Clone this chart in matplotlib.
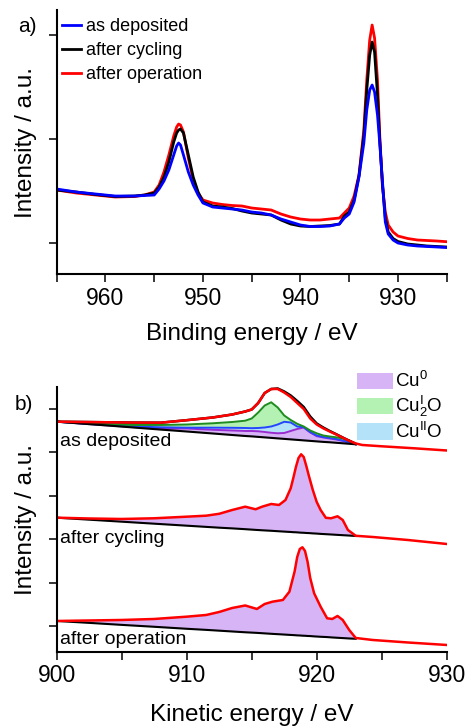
import numpy as np
import matplotlib
matplotlib.use('Agg')
import matplotlib.pyplot as plt
from matplotlib.patches import Patch
from matplotlib.lines import Line2D
from matplotlib.ticker import MultipleLocator

plt.rcParams['font.family'] = ['Liberation Sans', 'DejaVu Sans']
plt.rcParams['mathtext.default'] = 'regular'

# ---------------- panel a) : Cu 2p XPS ----------------
binding_energy = [965, 963, 961, 959, 957, 956, 955, 954.5, 954, 953.5, 953, 952.7, 952.5, 952.3,
                  952, 951.5, 951, 950.5, 950, 949, 948, 947, 946, 945, 944, 943, 942, 941, 940,
                  939, 938, 937, 936, 935.5, 935, 934.5, 934, 933.5, 933.2, 932.9, 932.65, 932.4,
                  932.1, 931.87, 931.6, 931.3, 931, 930.5, 930, 929, 928, 927, 926, 925]
xps_as_deposited = [0.61, 0.58, 0.56, 0.54, 0.54, 0.545, 0.55, 0.61, 0.69, 0.80, 0.95, 1.04, 1.07, 1.05,
                    0.95, 0.78, 0.65, 0.55, 0.47, 0.43, 0.42, 0.41, 0.40, 0.38, 0.37, 0.35, 0.31, 0.28,
                    0.25, 0.235, 0.235, 0.24, 0.26, 0.32, 0.36, 0.48, 0.73, 1.07, 1.40, 1.60, 1.65,
                    1.58, 1.35, 1.07, 0.70, 0.28, 0.16, 0.10, 0.07, 0.05, 0.04, 0.035, 0.03, 0.025]
xps_after_cycling = [0.60, 0.58, 0.555, 0.535, 0.54, 0.55, 0.57, 0.63, 0.73, 0.88, 1.08, 1.17, 1.20, 1.21,
                     1.17, 0.95, 0.73, 0.58, 0.48, 0.44, 0.43, 0.415, 0.39, 0.37, 0.36, 0.35, 0.30, 0.26,
                     0.24, 0.235, 0.24, 0.245, 0.26, 0.34, 0.38, 0.50, 0.74, 1.15, 1.60, 1.95, 2.08,
                     1.98, 1.55, 1.10, 0.67, 0.32, 0.18, 0.115, 0.085, 0.06, 0.05, 0.04, 0.035, 0.03]
xps_after_operation = [0.60, 0.57, 0.55, 0.53, 0.535, 0.55, 0.58, 0.65, 0.78, 0.95, 1.14, 1.23, 1.26, 1.25,
                       1.18, 0.92, 0.70, 0.57, 0.50, 0.47, 0.455, 0.445, 0.44, 0.42, 0.41, 0.40, 0.36, 0.33,
                       0.31, 0.30, 0.30, 0.31, 0.32, 0.37, 0.42, 0.54, 0.75, 1.20, 1.70, 2.10, 2.25,
                       2.12, 1.70, 1.15, 0.65, 0.38, 0.25, 0.18, 0.14, 0.115, 0.10, 0.095, 0.09, 0.083]
labels_a = ['as deposited', 'after cycling', 'after operation']
colors_a = ['#0000FF', '#000000', '#FF0000']

# ---------------- panel b) : Cu LMM Auger ----------------
# as deposited (with fit components, cumulative boundaries)
ke_dep = [900, 902, 904, 906, 908, 910, 912, 913.5, 914.5, 915, 915.5, 916, 916.5, 917, 917.5, 918,
          918.5, 919, 919.5, 920, 920.5, 921, 921.5, 922, 922.5, 923, 923.5, 925, 927.5, 930]
dep_spectrum = [2.183, 2.18, 2.177, 2.174, 2.173, 2.198, 2.225, 2.255, 2.285, 2.305, 2.37, 2.47, 2.51,
                2.51, 2.475, 2.43, 2.37, 2.31, 2.215, 2.155, 2.117, 2.085, 2.055, 2.023, 1.992, 1.965,
                1.95, 1.937, 1.917, 1.895]
dep_envelope = [2.183, 2.18, 2.177, 2.174, 2.173, 2.198, 2.225, 2.255, 2.285, 2.305, 2.37, 2.47, 2.51,
                2.515, 2.485, 2.445, 2.39, 2.33, 2.235, 2.165, 2.125, 2.09, 2.058, 2.025, 1.993, 1.962]
dep_background = [2.183, 2.163, 2.144, 2.124, 2.104, 2.085, 2.065, 2.05, 2.04, 2.036, 2.031, 2.026,
                  2.021, 2.016, 2.011, 2.006, 2.001, 1.996, 1.991, 1.986, 1.981, 1.977, 1.972, 1.967,
                  1.962, 1.957]
dep_cu0_top = [2.183, 2.163, 2.145, 2.128, 2.114, 2.115, 2.102, 2.095, 2.09, 2.09, 2.087, 2.08, 2.072,
               2.067, 2.07, 2.09, 2.11, 2.125, 2.075, 2.038, 2.025, 2.015, 2.005, 1.99, 1.972, 1.957]
dep_cuo_top = [2.183, 2.165, 2.15, 2.135, 2.127, 2.123, 2.123, 2.122, 2.12, 2.118, 2.12, 2.125, 2.135,
               2.155, 2.182, 2.175, 2.135, 2.127, 2.08, 2.045, 2.03, 2.02, 2.01, 1.995, 1.975, 1.957]
dep_cu2o_top = [2.183, 2.17, 2.155, 2.15, 2.15, 2.155, 2.167, 2.18, 2.193, 2.215, 2.275, 2.345, 2.377,
                2.325, 2.245, 2.20, 2.162, 2.135, 2.095, 2.067, 2.045, 2.035, 2.027, 2.015, 1.995, 1.96]

# after cycling
ke_cyc = [900, 902.5, 905, 907.5, 910, 911.5, 912.5, 913.5, 914.5, 915.3, 915.8, 916.5, 917.1, 917.6,
          918.0, 918.2, 918.4, 918.6, 918.8, 919.0, 919.2, 919.4, 919.7, 920.0, 920.3, 920.7, 921.1,
          921.6, 922.0, 922.4, 923.0, 924.3, 927, 930]
cyc_spectrum = [1.223, 1.215, 1.21, 1.217, 1.233, 1.243, 1.262, 1.30, 1.333, 1.307, 1.333, 1.36, 1.35,
                1.40, 1.517, 1.62, 1.73, 1.82, 1.857, 1.83, 1.74, 1.64, 1.50, 1.38, 1.30, 1.222, 1.217,
                1.237, 1.20, 1.10, 1.042, 1.03, 1.00, 0.96]
cyc_background = [1.223, 1.203, 1.183, 1.163, 1.143, 1.131, 1.123, 1.116, 1.108, 1.101, 1.097, 1.092,
                  1.087, 1.083, 1.080, 1.078, 1.077, 1.075, 1.073, 1.072, 1.070, 1.069, 1.066, 1.064,
                  1.061, 1.058, 1.055, 1.051, 1.048, 1.045, 1.040]

# after operation
ke_op = [900, 902.5, 905, 907.5, 910, 911.5, 912.5, 913.5, 914.5, 915.4, 916.0, 916.6, 917.4, 917.9,
         918.3, 918.5, 918.7, 918.9, 919.1, 919.3, 919.5, 919.8, 920.3, 920.8, 921.2, 921.6, 922.0,
         922.5, 923.0, 924.3, 927, 930]
op_spectrum = [0.19, 0.195, 0.20, 0.21, 0.233, 0.25, 0.28, 0.32, 0.345, 0.31, 0.36, 0.383, 0.40, 0.483,
               0.685, 0.83, 0.91, 0.927, 0.89, 0.78, 0.62, 0.467, 0.333, 0.217, 0.21, 0.24, 0.20, 0.10,
               0.02, 0.0, -0.025, -0.05]
op_background = [0.19, 0.171, 0.151, 0.132, 0.112, 0.101, 0.093, 0.085, 0.077, 0.071, 0.066, 0.061,
                 0.055, 0.051, 0.048, 0.046, 0.045, 0.043, 0.042, 0.040, 0.039, 0.036, 0.032, 0.029,
                 0.025, 0.022, 0.019, 0.015, 0.012]

sample_labels_b = ['as deposited', 'after cycling', 'after operation']
component_labels = ['Cu$^{0}$', 'Cu$^{I}_{2}$O', 'Cu$^{II}$O']
fill_colors = ['#D7B4F6', '#B4F2B4', '#B4E2F8']
line_colors = ['#9A2BD0', '#1E8C1E', '#2446FF']

# ---------------- figure ----------------
fig = plt.figure(figsize=(4.69, 7.27), dpi=100)
ax1 = fig.add_axes([0.1209, 0.6231, 0.8316, 0.3631])
ax2 = fig.add_axes([0.1209, 0.1032, 0.8316, 0.3649])

for ax in (ax1, ax2):
    ax.spines['top'].set_visible(False)
    ax.spines['right'].set_visible(False)
    ax.spines['left'].set_linewidth(1.5)
    ax.spines['bottom'].set_linewidth(1.5)
    ax.tick_params(axis='both', which='both', direction='out', length=5.5, width=1.1,
                   labelsize=16.5, pad=3.5)

# panel a
series = [xps_as_deposited, xps_after_cycling, xps_after_operation]
handles = [Line2D([], [], color=c, lw=2.0, label=lab) for c, lab in zip(colors_a, labels_a)]
for data, c in zip(series[::-1], colors_a[::-1]):
    ax1.plot(binding_energy, data, color=c, lw=2.0, solid_joinstyle='round')
ax1.set_xlim(965, 925)
ax1.set_ylim(-0.24, 2.40)
ax1.xaxis.set_major_locator(MultipleLocator(10))
ax1.xaxis.set_minor_locator(MultipleLocator(5))
ax1.set_yticks([0.07, 1.11, 2.15])
ax1.set_yticklabels([])
ax1.set_xlabel('Binding energy / eV', fontsize=17.5, labelpad=10)
ax1.set_ylabel('Intensity / a.u.', fontsize=17.5)
ax1.yaxis.set_label_coords(-0.05, 0.5)
ax1.legend(handles=handles, loc='upper left', bbox_to_anchor=(0.008, 0.975), frameon=False,
           fontsize=13, handlelength=1.05, handletextpad=0.3, labelspacing=0.38,
           borderaxespad=0.0, borderpad=0.1)
fig.text(27 / 469, 1 - 26 / 727, 'a)', fontsize=15, ha='center', va='center')

# panel b
ke_fit = ke_dep[:len(dep_background)]
layers = [dep_background, dep_cu0_top, dep_cuo_top, dep_cu2o_top]
layer_fill = [fill_colors[0], fill_colors[2], fill_colors[1]]
for i in range(3):
    ax2.fill_between(ke_fit, layers[i], layers[i + 1], color=layer_fill[i], lw=0)
ax2.plot(ke_fit, dep_cu0_top, color=line_colors[0], lw=1.4)
ax2.plot(ke_fit, dep_cuo_top, color=line_colors[2], lw=1.4)
ax2.plot(ke_fit, dep_cu2o_top, color=line_colors[1], lw=1.4)
ax2.plot(ke_fit, dep_background, color='black', lw=1.5)
ax2.plot(ke_fit, dep_envelope, color='black', lw=1.8)
ax2.plot(ke_dep, dep_spectrum, color='#FF0000', lw=1.8)

for ke, spec, bg in [(ke_cyc, cyc_spectrum, cyc_background), (ke_op, op_spectrum, op_background)]:
    n = len(bg)
    ax2.fill_between(ke[:n], bg, spec[:n], color=fill_colors[0], lw=0)
    ax2.plot(ke[:n], bg, color='black', lw=1.5)
    ax2.plot(ke, spec, color='#FF0000', lw=1.8)

label_y = [1.983, 1.01, 0.0]
for lab, y in zip(sample_labels_b, label_y):
    ax2.text(900.25, y, lab, fontsize=14, ha='left', va='center', zorder=6)

ax2.set_xlim(900, 930)
ax2.set_ylim(-0.12, 2.533)
ax2.xaxis.set_major_locator(MultipleLocator(10))
ax2.xaxis.set_minor_locator(MultipleLocator(5))
ax2.set_yticks(np.linspace(0.14, 2.31, 6))
ax2.set_yticklabels([])
ax2.set_xlabel('Kinetic energy / eV', fontsize=17.5, labelpad=12)
ax2.set_ylabel('Intensity / a.u.', fontsize=17.5)
ax2.yaxis.set_label_coords(-0.05, 0.5)
patches = [Patch(facecolor=fc, edgecolor='none', label=lab) for fc, lab in zip(fill_colors, component_labels)]
ax2.legend(handles=patches, loc='upper right', bbox_to_anchor=(0.995, 1.065), frameon=False,
           fontsize=13.5, handlelength=1.9, handleheight=0.95, handletextpad=0.15,
           labelspacing=0.14, borderaxespad=0.0, borderpad=0.1)
fig.text(24 / 469, 1 - 404 / 727, 'b)', fontsize=15, ha='center', va='center')

fig.savefig('out.png', dpi=100)
